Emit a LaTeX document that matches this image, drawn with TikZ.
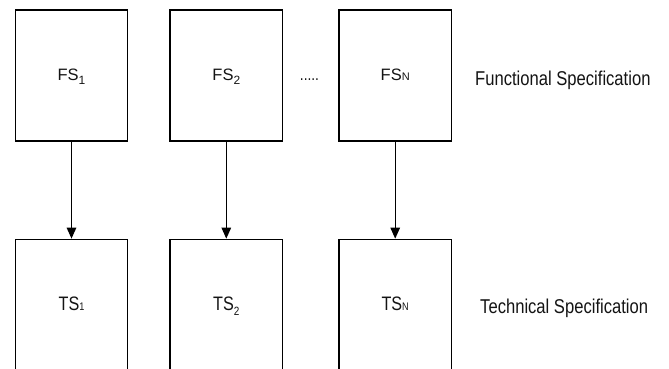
\documentclass[tikz,border=0pt]{standalone}
\usepackage{fontspec}
\setmainfont{Liberation Sans}
\usetikzlibrary{arrows.meta}
\newcommand{\narrowlbl}[1]{\scalebox{0.83}[1]{#1}}
\newcommand{\lowsub}[2]{\raisebox{-#1}{\fontsize{12}{12}\selectfont #2}}
\newcommand{\smallch}[1]{{\fontsize{11}{11}\selectfont #1}}

\begin{document}
\begin{tikzpicture}[x=1pt,y=-1pt,
  specbox/.style={draw,line width=1.3pt,minimum width=112.4pt,minimum height=131pt,inner sep=0pt,text depth=0pt,text=black!92},
  flow/.style={-{Triangle[length=11pt,width=9.5pt]},line width=1.3pt}]
\useasboundingbox (0,0) rectangle (669,369); \clip (0,0) rectangle (669,369);
% functional specification row
\node[specbox,text height=11pt,font=\fontsize{16.5}{18}\selectfont] (fs1) at (71.5,75.5) {FS\lowsub{3.5pt}{1}};
\node[specbox,text height=11pt,font=\fontsize{16.5}{18}\selectfont] (fs2) at (226.3,75.5) {FS\lowsub{4pt}{2}};
\node[specbox,text height=11pt,font=\fontsize{16.5}{18}\selectfont] (fsn) at (395.2,75.5) {FS\smallch{N}};
\node[anchor=base,inner sep=0pt,text=black!92,font=\fontsize{16.5}{18}\selectfont] (dots) at (309.5,81) {\narrowlbl{.....}};
% technical specification row
\node[specbox,text height=12pt,font=\fontsize{19.5}{21}\selectfont] (ts1) at (71.5,304.8) {\narrowlbl{TS\smallch{1}}};
\node[specbox,text height=12pt,font=\fontsize{19.5}{21}\selectfont] (ts2) at (226.3,304.8) {\narrowlbl{TS\lowsub{4.3pt}{2}}};
\node[specbox,text height=12pt,font=\fontsize{19.5}{21}\selectfont] (tsn) at (395.2,304.8) {\narrowlbl{TS\smallch{N}}};
\node[anchor=base west,inner sep=0pt,text=black!92,font=\fontsize{20}{22}\selectfont] (fslbl) at (475,85) {\narrowlbl{Functional Specification}};
\node[anchor=base west,inner sep=0pt,text=black!92,font=\fontsize{20}{22}\selectfont] (tslbl) at (480,313.3) {\narrowlbl{Technical Specification}};
\foreach \k in {1,2,n} { \draw[flow] (fs\k.south) -- (ts\k.north); };
\end{tikzpicture}
\end{document}
